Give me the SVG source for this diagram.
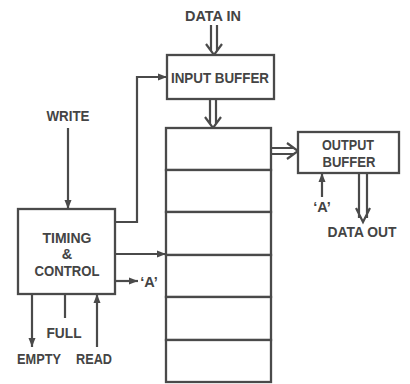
<svg xmlns="http://www.w3.org/2000/svg" width="410" height="384" viewBox="0 0 410 384">
<style>
.box{fill:#fff;stroke:#4a4a4a;stroke-width:2.3}
.ln{fill:none;stroke:#4a4a4a;stroke-width:2.2}
.t{font-family:"Liberation Sans",Arial,sans-serif;font-weight:bold;font-size:14.5px;fill:#444;text-anchor:middle}
</style>
<defs>
<marker id="ah" markerUnits="userSpaceOnUse" markerWidth="10" markerHeight="8" refX="9" refY="4" orient="auto">
<path d="M0,0.5 L9,4 L0,7.5 Z" fill="#4a4a4a"/>
</marker>
</defs>
<rect width="410" height="384" fill="#fff"/>
<g id="connectors">
<path class="ln" d="M211,25 V51 M217,25 V51 M206,44 L214,55 L222,44"/>
<path class="ln" d="M210,99 V124 M216,99 V124 M205,117 L213,128 L221,117"/>
<path class="ln" d="M271,148 H294 M271,154 H294 M287,143 L298,151 L287,159"/>
<path class="ln" d="M359,173 V218 M367,173 V218 M356,208 L363,222 L370,208"/>
<path class="ln" d="M68,128 V209" marker-end="url(#ah)"/>
<path class="ln" d="M115,222 H137 V77 H167" marker-end="url(#ah)"/>
<path class="ln" d="M115,254 H166" marker-end="url(#ah)"/>
<path class="ln" d="M115,281 H138" marker-end="url(#ah)"/>
<path class="ln" d="M32,294 V347" marker-end="url(#ah)"/>
<path class="ln" d="M65,294 V318"/>
<path class="ln" d="M97,347 V294" marker-end="url(#ah)"/>
<path class="ln" d="M322,197 V173" marker-end="url(#ah)"/>
</g>
<g id="input-buffer">
<rect class="box" x="167" y="55" width="107" height="44"/>
<text class="t" x="220" y="83" textLength="98" lengthAdjust="spacingAndGlyphs">INPUT BUFFER</text>
</g>
<g id="memory-stack">
<rect class="box" x="166" y="128" width="105" height="42"/>
<rect class="box" x="166" y="170" width="105" height="42"/>
<rect class="box" x="166" y="212" width="105" height="43"/>
<rect class="box" x="166" y="255" width="105" height="42"/>
<rect class="box" x="166" y="297" width="105" height="43"/>
<rect class="box" x="166" y="340" width="105" height="42"/>
</g>
<g id="output-buffer">
<rect class="box" x="298" y="132" width="101" height="41"/>
<text class="t" x="348" y="150" textLength="52" lengthAdjust="spacingAndGlyphs">OUTPUT</text>
<text class="t" x="349" y="167" textLength="53" lengthAdjust="spacingAndGlyphs">BUFFER</text>
</g>
<g id="timing-control">
<rect class="box" x="18" y="209" width="97" height="85"/>
<text class="t" x="67" y="243" textLength="49" lengthAdjust="spacingAndGlyphs">TIMING</text>
<text class="t" x="67" y="259">&amp;</text>
<text class="t" x="67" y="276" textLength="65" lengthAdjust="spacingAndGlyphs">CONTROL</text>
</g>
<g id="labels">
<text class="t" x="213" y="21" textLength="56" lengthAdjust="spacingAndGlyphs">DATA IN</text>
<text class="t" x="68" y="121" textLength="43" lengthAdjust="spacingAndGlyphs">WRITE</text>
<text class="t" x="149" y="287">‘A’</text>
<text class="t" x="64" y="338" textLength="35" lengthAdjust="spacingAndGlyphs">FULL</text>
<text class="t" x="39" y="364" textLength="44" lengthAdjust="spacingAndGlyphs">EMPTY</text>
<text class="t" x="94" y="364" textLength="36" lengthAdjust="spacingAndGlyphs">READ</text>
<text class="t" x="322" y="212">‘A’</text>
<text class="t" x="362" y="237" textLength="69" lengthAdjust="spacingAndGlyphs">DATA OUT</text>
</g>
</svg>
